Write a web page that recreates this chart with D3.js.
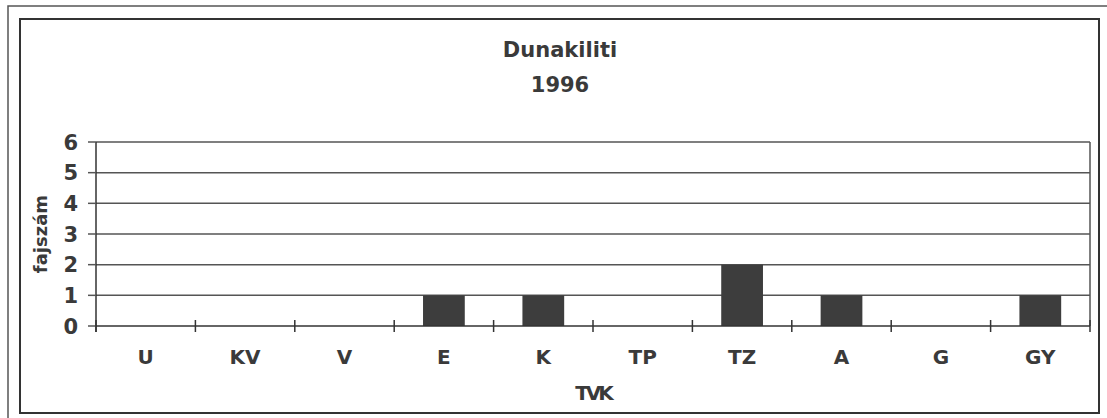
<!DOCTYPE html>
<html>
<head>
<meta charset="utf-8">
<script src="https://cdn.jsdelivr.net/npm/d3@7"></script>
<style>
  body { margin: 0; background: #fff; }
  text { font-family: "DejaVu Sans", sans-serif; font-weight: bold; fill: #3a3a3a; }
</style>
</head>
<body>
<div id="chart"></div>
<script>
// data
const categories = ["U", "KV", "V", "E", "K", "TP", "TZ", "A", "G", "GY"];
const values = [0, 0, 0, 1, 1, 0, 2, 1, 0, 1];
const yTicks = [0, 1, 2, 3, 4, 5, 6];
const titleLines = ["Dunakiliti", "1996"];

const width = 1107, height = 418;
const plot = { left: 96, right: 1090, top: 142, bottom: 326 };

const svg = d3.select("#chart")
  .append("svg")
  .attr("width", width)
  .attr("height", height);

// frames
svg.append("rect")
  .attr("x", 8).attr("y", 6)
  .attr("width", 1110).attr("height", 430)
  .attr("fill", "none").attr("stroke", "#555").attr("stroke-width", 1.5);
svg.append("rect")
  .attr("x", 20).attr("y", 19)
  .attr("width", 1079).attr("height", 394)
  .attr("fill", "none").attr("stroke", "#333").attr("stroke-width", 2);

const x = d3.scaleBand()
  .domain(categories)
  .range([plot.left, plot.right])
  .paddingInner(0.58)
  .paddingOuter(0.29);

const xCell = d3.scaleBand()
  .domain(categories)
  .range([plot.left, plot.right]);

const y = d3.scaleLinear()
  .domain([0, 6])
  .range([plot.bottom, plot.top]);

// gridlines
svg.append("g")
  .selectAll("line")
  .data(yTicks.filter(d => d > 0))
  .join("line")
  .attr("x1", plot.left).attr("x2", plot.right)
  .attr("y1", d => y(d)).attr("y2", d => y(d))
  .attr("stroke", "#555").attr("stroke-width", 1.5);

// right border of plot area
svg.append("line")
  .attr("x1", plot.right).attr("x2", plot.right)
  .attr("y1", plot.top).attr("y2", plot.bottom)
  .attr("stroke", "#555").attr("stroke-width", 1.5);

// bars
svg.append("g")
  .selectAll("rect")
  .data(categories.map((c, i) => ({ c, v: values[i] })))
  .join("rect")
  .attr("x", d => x(d.c))
  .attr("y", d => y(d.v))
  .attr("width", x.bandwidth())
  .attr("height", d => y(0) - y(d.v))
  .attr("fill", "#3d3d3d");

// y axis
const yAxis = svg.append("g");
yAxis.append("line")
  .attr("x1", plot.left).attr("x2", plot.left)
  .attr("y1", plot.top).attr("y2", plot.bottom + 6)
  .attr("stroke", "#333").attr("stroke-width", 1.5);
yAxis.selectAll("line.tick")
  .data(yTicks)
  .join("line")
  .attr("class", "tick")
  .attr("x1", plot.left - 8).attr("x2", plot.left)
  .attr("y1", d => y(d)).attr("y2", d => y(d))
  .attr("stroke", "#555").attr("stroke-width", 1.5);
yAxis.selectAll("text")
  .data(yTicks)
  .join("text")
  .attr("x", 78)
  .attr("y", d => y(d))
  .attr("dy", "0.36em")
  .attr("text-anchor", "end")
  .style("font-size", "21px")
  .text(d => d);

// x axis
const xAxis = svg.append("g");
xAxis.append("line")
  .attr("x1", plot.left).attr("x2", plot.right)
  .attr("y1", plot.bottom).attr("y2", plot.bottom)
  .attr("stroke", "#333").attr("stroke-width", 1.5);
const boundaries = categories.map(c => xCell(c)).concat([plot.right]);
xAxis.selectAll("line.tick")
  .data(boundaries)
  .join("line")
  .attr("class", "tick")
  .attr("x1", d => d).attr("x2", d => d)
  .attr("y1", plot.bottom - 6).attr("y2", plot.bottom + 6)
  .attr("stroke", "#333").attr("stroke-width", 1.5);
xAxis.selectAll("text")
  .data(categories)
  .join("text")
  .attr("x", d => xCell(d) + xCell.bandwidth() / 2)
  .attr("y", 364)
  .attr("text-anchor", "middle")
  .style("font-size", "20px")
  .text(d => d);

// titles
svg.append("g")
  .selectAll("text")
  .data(titleLines)
  .join("text")
  .attr("x", 560)
  .attr("y", (d, i) => 57 + i * 35)
  .attr("text-anchor", "middle")
  .style("font-size", "21px")
  .text(d => d);

svg.append("text")
  .attr("x", (plot.left + plot.right) / 2)
  .attr("y", 400)
  .attr("text-anchor", "middle")
  .style("font-size", "20px")
  .style("letter-spacing", "-3px")
  .text("TVK");

svg.append("text")
  .attr("transform", `translate(47, ${(plot.top + plot.bottom) / 2}) rotate(-90)`)
  .attr("text-anchor", "middle")
  .style("font-size", "18px")
  .text("fajszám");
</script>
</body>
</html>
